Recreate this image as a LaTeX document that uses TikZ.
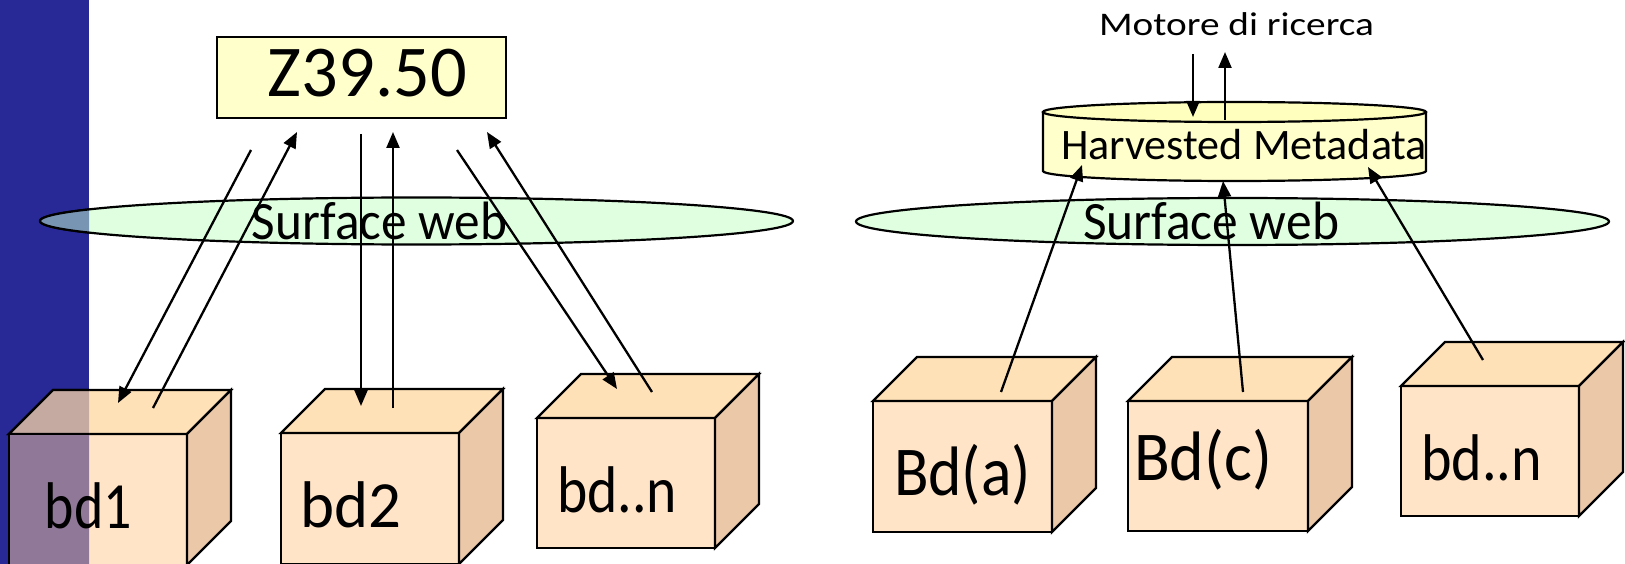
\documentclass[tikz,border=0pt]{standalone}
\usepackage{fontspec}
\setmainfont{Carlito}
\usetikzlibrary{arrows.meta,shapes.geometric}
\definecolor{cbar}{HTML}{282896}
\definecolor{zfill}{HTML}{FFFFCC}
\definecolor{cyltop}{HTML}{FFFFBE}
\definecolor{cgreen}{HTML}{E0FFE0}
\definecolor{cfront}{HTML}{FFE4C8}
\definecolor{ctop}{HTML}{FFE1B8}
\definecolor{cside}{HTML}{EBC8A8}
\definecolor{ovfront}{HTML}{907898}
\definecolor{ovtop}{HTML}{C4AAA0}
\definecolor{ovgreen}{HTML}{7896B4}
\newcommand{\fitw}[2]{\resizebox{#1}{\height}{#2}}
\newcommand{\mycube}[5]{%
  \node[frontface, minimum width=#4pt, minimum height=#5pt] (#1) at (#2,#3) {};
  \filldraw[outline, fill=ctop] (#1.north west) -- ++(44,-44) -- ++(#4,0) -- (#1.north east) -- cycle;
  \filldraw[outline, fill=cside] (#1.north east) -- ++(44,-44) -- ++(0,#5) -- (#1.south east) -- cycle;
}
\begin{document}
\begin{tikzpicture}[x=1pt,y=-1pt,
  outline/.style={draw=black, line width=2.2pt, line join=miter},
  frontface/.style={rectangle, draw=black, line width=2.2pt, fill=cfront, inner sep=0pt, outer sep=0pt, anchor=north west},
  webell/.style={ellipse, draw=black, line width=2.2pt, fill=cgreen, inner sep=0pt, outer sep=0pt, minimum width=753pt, minimum height=47pt},
  arr/.style={line width=2.3pt, -{Triangle[length=16pt,width=13pt]}},
  lbl/.style={inner sep=0pt, outer sep=0pt, anchor=base, text=black}]
\useasboundingbox (0,0) rectangle (1625,564);
% blue bar
\fill[cbar] (0,0) rectangle (89,564);
% ---------- left part ----------
\node[draw=black, line width=2pt, fill=zfill, minimum width=289pt, minimum height=81pt, inner sep=0pt, outer sep=0pt] (zbox) at (361.5,77.5) {};
\node[webell] (e1) at (416.5,221) {};
\mycube{c1}{9}{434}{178}{131}
\mycube{c2}{281}{433}{178}{131}
\mycube{cn}{537}{418}{178}{130}
% overlap with the blue bar
\begin{scope}
  \clip (0,0) rectangle (89,564);
  \filldraw[outline, fill=ovgreen] (e1.center) ellipse [x radius=376.5, y radius=23.5];
  \filldraw[outline, fill=ovtop] (c1.north west) -- ++(44,-44) -- ++(178,0) -- (c1.north east) -- cycle;
  \filldraw[outline, fill=ovfront] (c1.north west) rectangle (c1.south east);
\end{scope}
\node[lbl] (zlab) at (367.5,97) {\fontsize{73}{73}\selectfont\fitw{199pt}{Z39.50}};
\node[lbl] (w1) at (379.5,240) {\fontsize{54}{54}\selectfont\fitw{255pt}{Surface web}};
\node[lbl] (t1) at (88.5,528) {\fontsize{66}{66}\selectfont\fitw{87pt}{bd1}};
\node[lbl] (t2) at (350.5,527) {\fontsize{66}{66}\selectfont\fitw{101pt}{bd2}};
\node[lbl] (tn) at (617,512) {\fontsize{66}{66}\selectfont\fitw{120pt}{bd..n}};
% arrow ends
\coordinate (a1s) at (251,150); \coordinate (a1e) at (118,403);
\coordinate (a2s) at (153,408); \coordinate (a2e) at (297,132);
\coordinate (a3s) at (361,134); \coordinate (a3e) at (361,406);
\coordinate (a4s) at (393,408); \coordinate (a4e) at (393,132);
\coordinate (a5s) at (457,150); \coordinate (a5e) at (617,389);
\coordinate (a6s) at (652,392); \coordinate (a6e) at (487,132);
\draw[arr] (a1s) -- (a1e);
\draw[arr] (a2s) -- (a2e);
\draw[arr] (a3s) -- (a3e);
\draw[arr] (a4s) -- (a4e);
\draw[arr] (a5s) -- (a5e);
\draw[arr] (a6s) -- (a6e);
% ---------- right part ----------
\node[lbl] (mot) at (1236.5,36) {\fontsize{33}{33}\selectfont\fitw{275pt}{Motore di ricerca}};
\node[inner sep=0pt, outer sep=0pt, minimum width=383pt, minimum height=79pt] (hm) at (1234.5,141.5) {};
\fill[zfill] (1043,112) -- (1043,171) arc[start angle=180, end angle=0, x radius=191.5, y radius=10] -- (1426,112) -- cycle;
\draw[outline] (1043,112) -- (1043,171) arc[start angle=180, end angle=0, x radius=191.5, y radius=10] -- (1426,112);
\filldraw[outline, fill=cyltop] (1234.5,112) ellipse [x radius=191.5, y radius=10];
\node[lbl] (hml) at (1244,160) {\fontsize{43.5}{43.5}\selectfont\fitw{366pt}{Harvested Metadata}};
\node[webell] (e2) at (1232.5,221.5) {};
\node[lbl] (w2) at (1211,239) {\fontsize{54}{54}\selectfont\fitw{256pt}{Surface web}};
\mycube{ca}{873}{401}{179}{131}
\mycube{cc}{1128}{401}{180}{130}
\mycube{cr}{1401}{386}{178}{130}
\node[lbl] (ta) at (962.5,495) {\fontsize{70}{70}\selectfont\fitw{137pt}{Bd(a)}};
\node[lbl] (tc) at (1203,480) {\fontsize{70}{70}\selectfont\fitw{138pt}{Bd(c)}};
\node[lbl] (tr) at (1481.5,480) {\fontsize{66}{66}\selectfont\fitw{121pt}{bd..n}};
\coordinate (m1s) at (1193,54);  \coordinate (m1e) at (1193,117);
\coordinate (m2s) at (1225,120); \coordinate (m2e) at (1225,52);
\coordinate (b1s) at (1001,392); \coordinate (b1e) at (1082,165);
\coordinate (b2s) at (1243,392); \coordinate (b2e) at (1223,181);
\coordinate (b3s) at (1483,360); \coordinate (b3e) at (1368,167);
\draw[arr] (m1s) -- (m1e);
\draw[arr] (m2s) -- (m2e);
\draw[arr] (b1s) -- (b1e);
\draw[arr] (b2s) -- (b2e);
\draw[arr] (b3s) -- (b3e);
\end{tikzpicture}
\end{document}
